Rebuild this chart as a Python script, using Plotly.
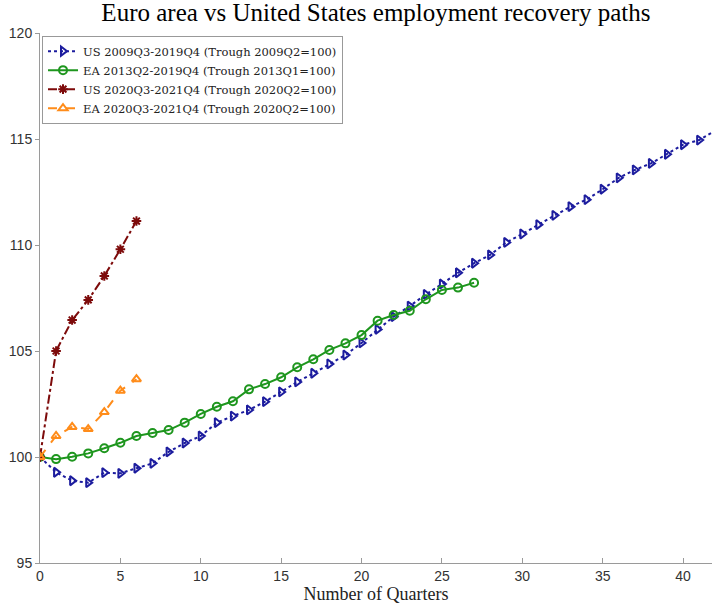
import plotly.graph_objects as go

# Employment indices, rebased to 100 at each trough quarter
us_0919 = [100.0, 99.28, 98.88, 98.79, 99.26, 99.23, 99.47, 99.70, 100.24, 100.66,
           100.99, 101.62, 101.93, 102.22, 102.61, 103.07, 103.54, 103.95, 104.39, 104.81,
           105.38, 106.02, 106.62, 107.12, 107.67, 108.16, 108.69, 109.14, 109.53, 110.12,
           110.52, 110.96, 111.40, 111.81, 112.14, 112.63, 113.17, 113.54, 113.85, 114.28,
           114.73, 114.95, 115.40]
ea_1319 = [100.0, 99.90, 100.01, 100.17, 100.41, 100.67, 100.99, 101.13, 101.27, 101.62,
           102.03, 102.37, 102.63, 103.19, 103.44, 103.76, 104.23, 104.61, 105.05, 105.36,
           105.75, 106.43, 106.70, 106.90, 107.44, 107.88, 107.99, 108.22]
us_2021 = [100.0, 105.0, 106.46, 107.41, 108.54, 109.80, 111.13]
ea_2021 = [100.0, 100.99, 101.42, 101.32, 102.12, 103.13, 103.67]

names = [
    "US 2009Q3-2019Q4 (Trough 2009Q2=100)",
    "EA 2013Q2-2019Q4 (Trough 2013Q1=100)",
    "US 2020Q3-2021Q4 (Trough 2020Q2=100)",
    "EA 2020Q3-2021Q4 (Trough 2020Q2=100)",
]
series = [us_0919, ea_1319, us_2021, ea_2021]
colors = ["#1c1c9e", "#1e961e", "#7d0a0a", "#ff8c1a"]
dashes = ["dot", "solid", "dashdot", "dash"]
symbols = ["triangle-right-open", "circle-open", "asterisk-open", "triangle-up-open"]
msizes = [8, 8, 8, 8]

serif = "Liberation Serif, Times New Roman, serif"
legend_serif = "DejaVu Serif, serif"
sans = "Liberation Sans, Arial, sans-serif"

fig = go.Figure()
for name, vals, c, d, s, ms in zip(names, series, colors, dashes, symbols, msizes):
    fig.add_trace(go.Scatter(
        x=list(range(len(vals))), y=vals, name=name, mode="lines+markers",
        line=dict(color=c, width=2, dash=d),
        marker=dict(symbol=s, size=ms, color=c, line=dict(color=c, width=2)),
    ))

fig.update_layout(
    width=712, height=608,
    margin=dict(l=40, r=0, t=33, b=45),
    paper_bgcolor="white", plot_bgcolor="white",
    title=dict(text="Euro area vs United States employment recovery paths",
               x=0.528, xanchor="center", y=0.98, yanchor="middle",
               font=dict(family=serif, size=25, color="black")),
    legend=dict(x=0.003, y=0.995, xanchor="left", yanchor="top",
                bgcolor="white", bordercolor="#999999", borderwidth=1,
                font=dict(family=legend_serif, size=11.5, color="#222222"),
                itemwidth=30, tracegroupgap=0),
    showlegend=True,
)
fig.update_xaxes(range=[0, 41.8], tickvals=list(range(0, 45, 5)),
                 showgrid=False, zeroline=False, showline=True, linecolor="#9a9a9a",
                 ticks="inside", ticklen=5, tickcolor="#9a9a9a",
                 tickfont=dict(family=sans, size=14, color="#333333"),
                 title=dict(text="Number of Quarters", standoff=2,
                            font=dict(family=serif, size=18, color="#222222")))
fig.update_yaxes(range=[95, 120], tickvals=[95, 100, 105, 110, 115, 120],
                 showgrid=False, zeroline=False, showline=True, linecolor="#9a9a9a",
                 ticks="outside", ticklen=4, tickcolor="#9a9a9a",
                 tickfont=dict(family=sans, size=14, color="#333333"))

fig.write_html("out.html")
